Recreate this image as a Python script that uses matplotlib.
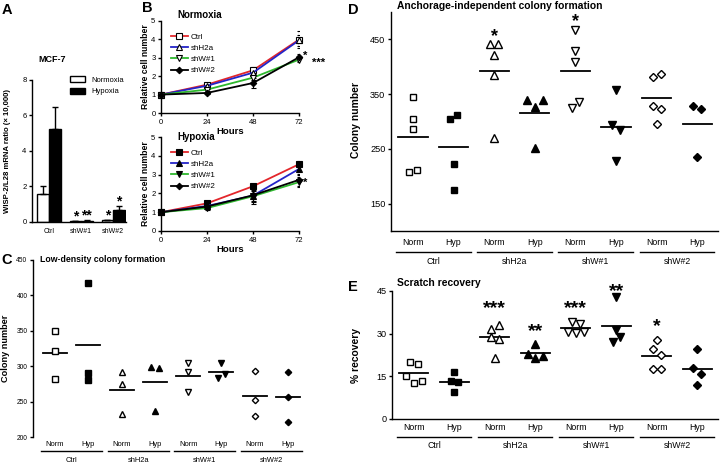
import numpy as np
import matplotlib
matplotlib.use("Agg")
import matplotlib.pyplot as plt
import matplotlib.transforms as mtransforms
from matplotlib.patches import Patch
from matplotlib.textpath import TextPath
from matplotlib.font_manager import FontProperties

plt.rcParams["font.family"] = ["Liberation Sans", "DejaVu Sans"]
plt.rcParams["axes.linewidth"] = 1.0
plt.rcParams["xtick.major.width"] = 1.0
plt.rcParams["ytick.major.width"] = 1.0
plt.rcParams["xtick.major.size"] = 2.5
plt.rcParams["ytick.major.size"] = 2.5

W, H = 720, 463

# ---------------- data ----------------
# A: WISP-2 mRNA (bars, mean + upper SD)
a_groups = ["Ctrl", "shW#1", "shW#2"]
a_norm = [1.55, 0.03, 0.10]
a_norm_err = [0.47, 0.0, 0.02]
a_hyp = [5.22, 0.08, 0.68]
a_hyp_err = [1.28, 0.02, 0.22]
a_star_norm = ["", "*", "*"]
a_star_hyp = ["", "**", "*"]

# B: growth curves
hours = [0, 24, 48, 72]
b_labels = ["Ctrl", "shH2a", "shW#1", "shW#2"]
bn_ctrl = [1.0, 1.54, 2.32, 3.99]
bn_h2a = [1.0, 1.48, 2.19, 3.95]
bn_w1 = [1.0, 1.27, 1.92, 2.90]
bn_w2 = [1.0, 1.09, 1.63, 3.03]
bn_ctrl_err = [0.03, 0.08, 0.20, 0.47]
bn_h2a_err = [0.03, 0.07, 0.12, 0.30]
bn_w1_err = [0.03, 0.06, 0.12, 0.15]
bn_w2_err = [0.03, 0.06, 0.25, 0.20]
bh_ctrl = [1.0, 1.47, 2.38, 3.55]
bh_h2a = [1.0, 1.33, 1.88, 3.30]
bh_w1 = [1.0, 1.22, 1.85, 2.60]
bh_w2 = [1.0, 1.30, 1.90, 2.72]
bh_ctrl_err = [0.03, 0.08, 0.12, 0.15]
bh_h2a_err = [0.03, 0.10, 0.30, 0.30]
bh_w1_err = [0.03, 0.10, 0.30, 0.25]
bh_w2_err = [0.03, 0.15, 0.45, 0.30]

# C, D, E: scatter with means
cond_labels = ["Norm", "Hyp"]
group_names = ["Ctrl", "shH2a", "shW#1", "shW#2"]

c_ctrl_n = [350, 322, 282]
c_ctrl_h = [417, 291, 280]
c_h2a_n = [292, 275, 233]
c_h2a_h = [299, 297, 237]
c_w1_n = [304, 292, 264]
c_w1_h = [304, 283, 289]
c_w2_n = [293, 252, 230]
c_w2_h = [292, 256, 221]

d_ctrl_n = [345, 305, 287, 208, 212]
d_ctrl_h = [305, 311, 223, 174]
d_h2a_n = [442, 442, 421, 385, 270]
d_h2a_h = [340, 327, 340, 252]
d_w1_n = [468, 429, 408, 324, 336]
d_w1_h = [357, 293, 284, 227]
d_w2_n = [381, 386, 329, 322, 296]
d_w2_h = [329, 323, 235]
d_stars = ["", "", "*", "", "*", "", "", ""]

e_ctrl_n = [20.1, 19.4, 15.0, 12.6, 13.2]
e_ctrl_h = [13.4, 12.9, 16.5, 9.5]
e_h2a_n = [29.0, 28.2, 31.6, 33.1, 21.6]
e_h2a_h = [22.9, 26.3, 21.4, 22.0]
e_w1_n = [34.2, 33.3, 30.7, 30.2, 30.7]
e_w1_h = [43.0, 31.3, 27.2, 28.8]
e_w2_n = [24.7, 27.8, 22.6, 17.5, 17.5]
e_w2_h = [24.5, 18.1, 15.9, 12.0]
e_stars = ["", "", "***", "**", "***", "**", "*", ""]
e_star_y = [0, 0, 40.7, 32.5, 40.7, 46.5, 34.2, 0]

fig = plt.figure(figsize=(W / 100, H / 100), dpi=100)

# vertical centre of the bold asterisk glyph, in em above the baseline
_ext = TextPath((0, 0), "*", size=1,
                prop=FontProperties(family="Liberation Sans", weight="bold")).get_extents()
AST_MID = (_ext.y0 + _ext.y1) / 2


def add_ax(x0, y0, x1, y1):
    ax = fig.add_axes([x0 / W, 1 - y1 / H, (x1 - x0) / W, (y1 - y0) / H])
    ax.spines["top"].set_visible(False)
    ax.spines["right"].set_visible(False)
    return ax


def ftext(x, y, s, **kw):
    kw.setdefault("va", "center")
    fig.text(x / W, 1 - y / H, s, **kw)


def star(ax, x, y, s, fs, dy=0, dx=0, ha="center"):
    # glyph centre sits dy pixels above (x, y)
    ax.annotate(s, (x, y), xytext=(dx, dy * 0.72 - AST_MID * fs),
                textcoords="offset points", va="baseline", ha=ha, fontsize=fs,
                fontweight="bold", annotation_clip=False)


def spread(vals, tol, step):
    vals = np.asarray(vals, float)
    order = np.argsort(vals, kind="stable")
    clusters = [[order[0]]]
    for i in order[1:]:
        if vals[i] - vals[clusters[-1][-1]] <= tol:
            clusters[-1].append(i)
        else:
            clusters.append([i])
    offs = np.zeros(len(vals))
    for cl in clusters:
        cl = sorted(cl)
        for k, i in enumerate(cl):
            offs[i] = (k - (len(cl) - 1) / 2) * step
    return offs


def px_off(dy):
    return mtransforms.ScaledTranslation(0, -dy / 100, fig.dpi_scale_trans)


markers = ["s", "s", "^", "^", "v", "v", "D", "D"]
msizes = [4.2, 4.2, 4.6, 4.6, 4.6, 4.6, 3.4, 3.4]


def scatter_panel(ax, groups, tol, step, fs, offs, ms_scale=1.0):
    for i, vals in enumerate(groups):
        vals = np.asarray(vals, float)
        xs = i + spread(vals, tol, step)
        fill = "black" if i % 2 else "white"
        ax.plot(xs, vals, ls="none", marker=markers[i], ms=msizes[i] * ms_scale,
                mfc=fill, mec="black", mew=1.0, clip_on=False, zorder=3)
        m = vals.mean()
        ax.plot([i - 0.36, i + 0.36], [m, m], color="black", lw=1.3, zorder=2)
    ax.set_xticks([])
    trans = ax.get_xaxis_transform()
    d_tick, d_line, d_name = offs
    for i in range(8):
        ax.text(i, 0, cond_labels[i % 2], transform=trans + px_off(d_tick),
                ha="center", va="center", fontsize=fs)
    for g, name in enumerate(group_names):
        ax.plot([2 * g - 0.42, 2 * g + 1.42], [0, 0], transform=trans + px_off(d_line),
                color="black", lw=1.0, clip_on=False)
        ax.text(2 * g + 0.5, 0, name, transform=trans + px_off(d_name),
                ha="center", va="center", fontsize=fs)


# ---------------- A ----------------
ax = add_ax(32, 80, 126, 222)
xa = np.arange(len(a_groups))
bw = 0.36
ax.bar(xa - bw / 2, a_norm, bw, color="white", edgecolor="black", lw=1.0,
       yerr=[np.zeros(3), a_norm_err], error_kw=dict(capsize=2.5, elinewidth=1.0, capthick=1.0))
ax.bar(xa + bw / 2, a_hyp, bw, color="black", edgecolor="black", lw=1.0,
       yerr=[np.zeros(3), a_hyp_err], error_kw=dict(capsize=2.5, elinewidth=1.0, capthick=1.0))
for i in range(3):
    if a_star_norm[i]:
        star(ax, xa[i] - bw / 2, a_norm[i] + a_norm_err[i], a_star_norm[i], 10, dy=7.5)
    if a_star_hyp[i]:
        star(ax, xa[i] + bw / 2, a_hyp[i] + a_hyp_err[i], a_star_hyp[i], 10, dy=7.5)
ax.set_xlim(-0.53, 2.4)
ax.set_ylim(0, 8)
ax.set_yticks([0, 2, 4, 6, 8])
ax.set_xticks(xa)
ax.set_xticklabels(a_groups)
ax.tick_params(axis="x", length=0, pad=4, labelsize=5)
ax.tick_params(axis="y", labelsize=5.5, pad=1.5)
ax.legend(handles=[Patch(facecolor="white", edgecolor="black", label="Normoxia"),
                   Patch(facecolor="black", edgecolor="black", label="Hypoxia")],
          loc="upper left", bbox_to_anchor=(70 / W, 1 - 76 / H), bbox_transform=fig.transFigure,
          frameon=False, fontsize=5.5, handlelength=1.9, handleheight=0.8,
          handletextpad=0.9, labelspacing=0.55, borderpad=0, borderaxespad=0)
ftext(7, 10, "A", fontsize=10.5, fontweight="bold", ha="center")
ftext(38, 60, "MCF-7", fontsize=6.5, fontweight="bold")
ftext(8, 151, "WISP-2/L28 mRNA ratio (\u00d7 10,000)", fontsize=5.6, fontweight="bold",
      rotation=90, ha="center")

# ---------------- B ----------------
b_colors = ["#e3262b", "#2424c8", "#2eb82e", "black"]
b_mk = ["s", "^", "v", "D"]
b_sets = [
    ((161, 21, 299, 113), [bn_ctrl, bn_h2a, bn_w1, bn_w2],
     [bn_ctrl_err, bn_h2a_err, bn_w1_err, bn_w2_err], ["white", "white", "white", "black"],
     "Normoxia", [("*", 3.26), ("***", 2.86)]),
    ((161, 137, 299, 231), [bh_ctrl, bh_h2a, bh_w1, bh_w2],
     [bh_ctrl_err, bh_h2a_err, bh_w1_err, bh_w2_err], ["black"] * 4,
     "Hypoxia", [("*", 2.72)]),
]
for (x0, y0, x1, y1), series, errs, fills, title, stars in b_sets:
    ax = add_ax(x0, y0, x1, y1)
    for k in range(4):
        ax.errorbar(hours, series[k], yerr=errs[k], fmt="none", ecolor="black",
                    elinewidth=0.8, capsize=1.8, capthick=0.8, zorder=2)
        ax.plot(hours, series[k], color=b_colors[k], lw=1.3, marker=b_mk[k],
                ms=3.3 if b_mk[k] == "D" else 3.8, mfc=fills[k], mec="black", mew=0.8,
                label=b_labels[k], clip_on=False, zorder=3)
    ax.set_xlim(0, 72)
    ax.set_ylim(0, 5)
    ax.set_xticks(hours)
    ax.set_yticks(range(6))
    ax.tick_params(labelsize=5.5, pad=1.5)
    for j, (s, yv) in enumerate(stars):
        star(ax, 72, yv, s, 8, dx=(3 if j == 0 else 9.5), ha="left")
    ax.legend(loc="upper left", bbox_to_anchor=(171 / W, 1 - (y0 + 12) / H),
              bbox_transform=fig.transFigure, frameon=False, fontsize=5.8,
              handlelength=2.1, handletextpad=0.3, labelspacing=0.45,
              borderpad=0, borderaxespad=0)
    ftext(177, y0 - 6 if title == "Normoxia" else y0, title, fontsize=7, fontweight="bold")
    ftext(230, y1 + 19, "Hours", fontsize=6.8, fontweight="bold", ha="center")
    ftext(145, (y0 + y1) / 2, "Relative cell number", fontsize=6.2, fontweight="bold",
          rotation=90, ha="center")
ftext(147, 8, "B", fontsize=10.5, fontweight="bold", ha="center")

# ---------------- C ----------------
ax = add_ax(33, 260, 303, 437)
scatter_panel(ax, [c_ctrl_n, c_ctrl_h, c_h2a_n, c_h2a_h, c_w1_n, c_w1_h, c_w2_n, c_w2_h],
              tol=8, step=0.22, fs=5.4, offs=(8, 14, 23), ms_scale=0.95)
ax.spines["bottom"].set_visible(False)
ax.set_xlim(-0.66, 7.45)
ax.set_ylim(200, 450)
ax.set_yticks(range(200, 451, 50))
ax.tick_params(axis="y", labelsize=4.8, pad=1.5)
ftext(7, 260, "C", fontsize=10.5, fontweight="bold", ha="center")
ftext(40, 260, "Low-density colony formation", fontsize=6.3, fontweight="bold")
ftext(6, 348, "Colony number", fontsize=6.6, fontweight="bold", rotation=90, ha="center")

# ---------------- D ----------------
ax = add_ax(391, 12, 718, 231)
d_groups = [d_ctrl_n, d_ctrl_h, d_h2a_n, d_h2a_h, d_w1_n, d_w1_h, d_w2_n, d_w2_h]
scatter_panel(ax, d_groups, tol=15, step=0.19, fs=6.3, offs=(12, 21, 30), ms_scale=1.1)
for i, s in enumerate(d_stars):
    if s:
        star(ax, i, max(d_groups[i]), s, 13, dy=12)
ax.set_xlim(-0.54, 7.51)
ax.set_ylim(100, 500)
ax.set_yticks([150, 250, 350, 450])
ax.tick_params(axis="y", labelsize=6.6, pad=1.5)
ftext(353, 10, "D", fontsize=10.5, fontweight="bold", ha="center")
ftext(397, 6, "Anchorage-independent colony formation", fontsize=7.4, fontweight="bold")
ftext(356, 120, "Colony number", fontsize=7.4, fontweight="bold", rotation=90, ha="center")

# ---------------- E ----------------
ax = add_ax(392, 291, 718, 419)
e_groups = [e_ctrl_n, e_ctrl_h, e_h2a_n, e_h2a_h, e_w1_n, e_w1_h, e_w2_n, e_w2_h]
scatter_panel(ax, e_groups, tol=2.3, step=0.19, fs=6.3, offs=(9, 18, 26), ms_scale=1.1)
for i, s in enumerate(e_stars):
    if s:
        star(ax, i, e_star_y[i], s, 14)
ax.set_xlim(-0.54, 7.51)
ax.set_ylim(0, 45)
ax.set_yticks([0, 15, 30, 45])
ax.tick_params(axis="y", labelsize=6.6, pad=1.5)
ftext(353, 287, "E", fontsize=10.5, fontweight="bold", ha="center")
ftext(397, 283, "Scratch recovery", fontsize=7.4, fontweight="bold")
ftext(356, 355, "% recovery", fontsize=7.4, fontweight="bold", rotation=90, ha="center")

fig.savefig("out.png", dpi=100)
